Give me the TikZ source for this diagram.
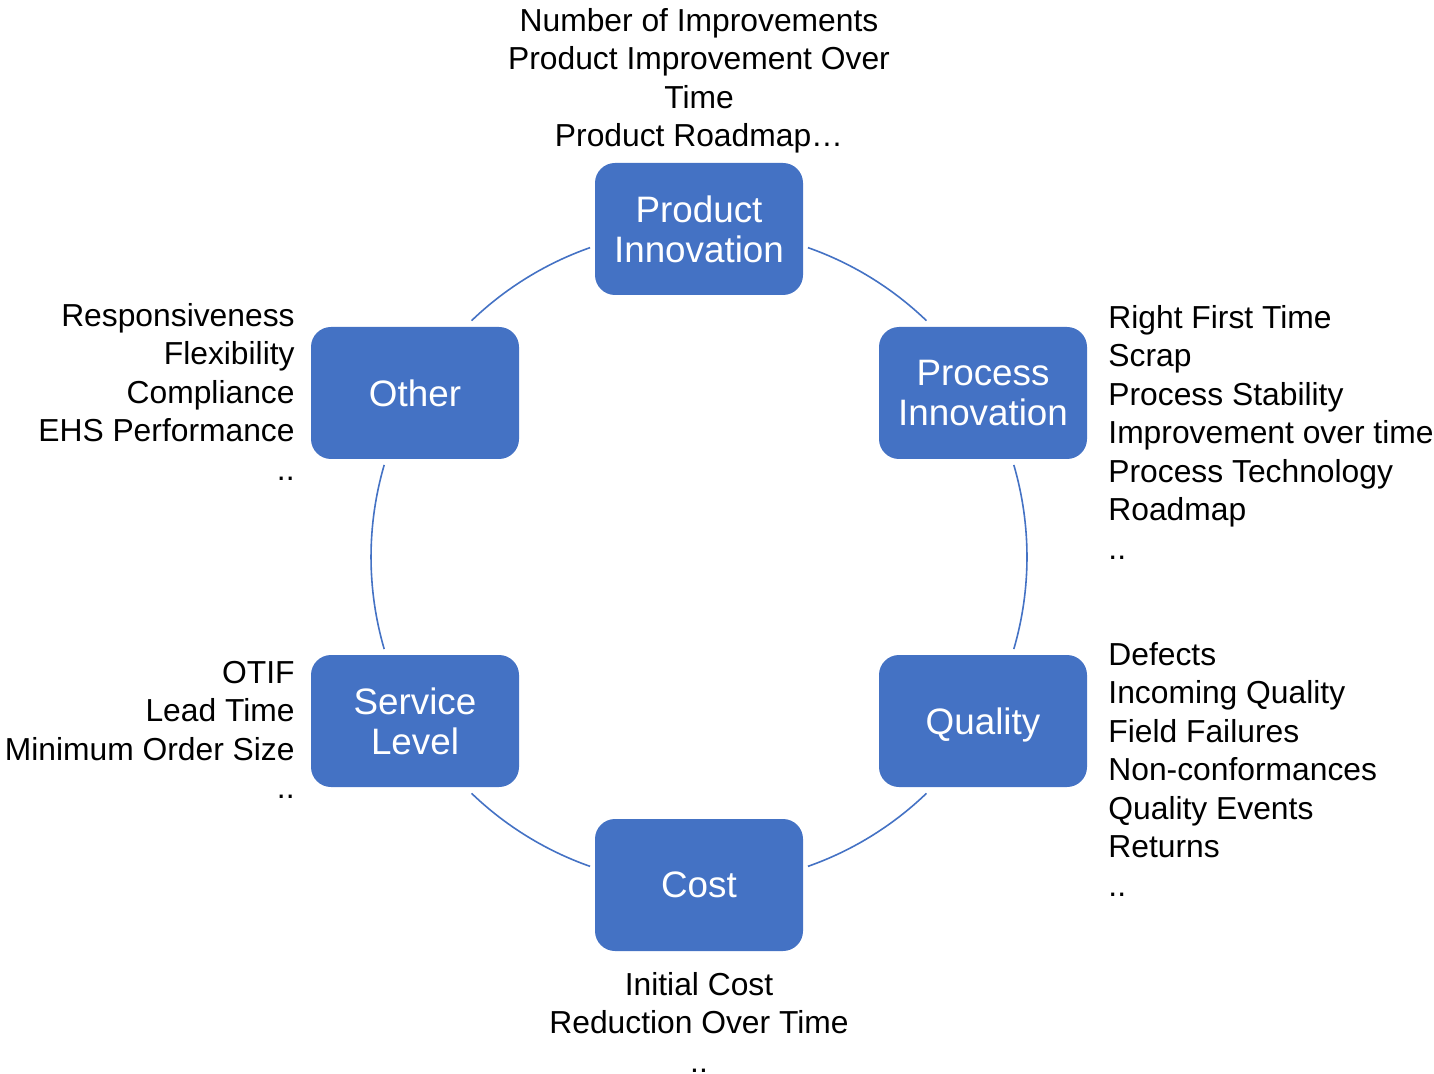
\documentclass[tikz,border=0pt]{standalone}
\usepackage{fontspec}
\setmainfont{Liberation Sans}
\definecolor{boxblue}{HTML}{4472C4}
\tikzset{
  stage/.style={draw=none, fill=boxblue, text=white, rounded corners=10pt,
    minimum width=104pt, minimum height=66pt, align=center, inner sep=0pt,
    font=\fontsize{18.4}{20}\selectfont},
  info/.style={inner sep=0pt, text=black, font=\fontsize{15.9}{19.25}\selectfont},
  ring/.style={draw=boxblue, line width=0.8pt}
}
\begin{document}
\begin{tikzpicture}[x=0.5pt,y=0.5pt]
\useasboundingbox (0,0) rectangle (1434,-1074);
\coordinate (c) at (699,-557);
% stages
\node[stage] (prod) at (699,-229) {Product\\Innovation};
\node[stage] (proc) at (983,-393) {Process\\Innovation};
\node[stage, text depth=0pt] (qual) at (983,-721) {Quality};
\node[stage] (cost) at (699,-885) {Cost};
\node[stage] (serv) at (415,-721) {Service\\Level};
\node[stage] (other) at (415,-393) {Other};
% ring arcs
\draw[ring] (c) ++(70.6:164pt) arc[start angle=70.6, end angle=46.1, radius=164pt];
\draw[ring] (c) ++(16.3:164pt) arc[start angle=16.3, end angle=-16.3, radius=164pt];
\draw[ring] (c) ++(-46.1:164pt) arc[start angle=-46.1, end angle=-70.6, radius=164pt];
\draw[ring] (c) ++(-109.4:164pt) arc[start angle=-109.4, end angle=-133.9, radius=164pt];
\draw[ring] (c) ++(-163.7:164pt) arc[start angle=-163.7, end angle=-196.3, radius=164pt];
\draw[ring] (c) ++(133.9:164pt) arc[start angle=133.9, end angle=109.4, radius=164pt];
% info texts
\node[info, anchor=north, align=center] (tprod) at (699,-4)
  {\strut Number of Improvements\\Product Improvement Over\\Time\\Product Roadmap\ldots};
\node[info, anchor=north west, align=left] (tproc) at (1108,-301)
  {\strut Right First Time\\Scrap\\Process Stability\\Improvement over time\\Process Technology\\Roadmap\\..};
\node[info, anchor=north west, align=left] (tqual) at (1108,-638)
  {\strut Defects\\Incoming Quality\\Field Failures\\Non-conformances\\Quality Events\\Returns\\..};
\node[info, anchor=north, align=center] (tcost) at (699,-968)
  {\strut Initial Cost\\Reduction Over Time\\..};
\node[info, anchor=north east, align=right] (tserv) at (295,-656)
  {\strut OTIF\\Lead Time\\Minimum Order Size\\..};
\node[info, anchor=north east, align=right] (tother) at (295,-299)
  {\strut Responsiveness\\Flexibility\\Compliance\\EHS Performance\\..};
\end{tikzpicture}
\end{document}
